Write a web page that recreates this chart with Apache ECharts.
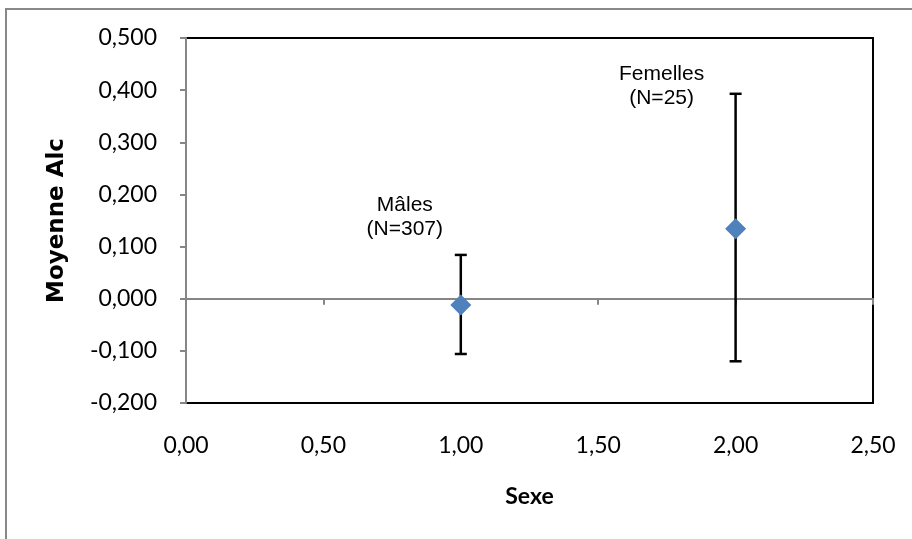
<!DOCTYPE html>
<html>
<head>
<meta charset="utf-8">
<script src="https://cdn.jsdelivr.net/npm/echarts@6/dist/echarts.min.js"></script>
<style>html,body{margin:0;padding:0;background:#fff}#c{width:912px;height:539px}</style>
</head>
<body>
<div id="c"></div>
<script>
var xValues = [1.0, 2.0];
var means = [-0.012, 0.134];
var upper = [0.084, 0.393];
var lower = [-0.106, -0.120];
var labelTexts = ['Mâles\n(N=307)', 'Femelles\n(N=25)'];
var yTicks = [-0.2, -0.1, 0, 0.1, 0.2, 0.3, 0.4, 0.5];
var xTicks = [0, 0.5, 1.0, 1.5, 2.0, 2.5];

var chart = echarts.init(document.getElementById('c'));
var tickFont = 'Lato, "Open Sans", sans-serif';
var labelOffsets = [[-56, -88], [-74, -143]];

var pointData = xValues.map(function (x, i) {
  return {
    value: [x, means[i]],
    label: {
      show: true,
      formatter: labelTexts[i],
      position: 'inside',
      offset: labelOffsets[i],
      fontFamily: '"Liberation Sans", Arial, sans-serif',
      fontSize: 21,
      lineHeight: 24,
      color: '#000',
      align: 'center'
    }
  };
});
var errData = xValues.map(function (x, i) { return [x, lower[i], upper[i]]; });

chart.setOption({
  animation: false,
  grid: { left: 186, top: 38, right: 39, bottom: 136, show: true, borderColor: '#000', borderWidth: 2, backgroundColor: '#fff' },
  graphic: [{
    type: 'rect', shape: { x: 6, y: 9, width: 1000, height: 600 },
    style: { fill: 'none', stroke: '#888', lineWidth: 2 }, silent: true, z: -10
  }],
  xAxis: [{
    type: 'value', min: 0, max: 2.5, interval: 0.5,
    name: 'Sexe', nameLocation: 'middle', nameGap: 82,
    nameTextStyle: { fontFamily: tickFont, fontWeight: 'bold', fontSize: 23, color: '#000' },
    axisLine: { show: false, onZero: false }, axisTick: { show: false },
    splitLine: { show: false },
    axisLabel: { margin: 31, fontFamily: tickFont, fontSize: 23, color: '#000',
      formatter: function (v) { return v.toFixed(2).replace('.', ','); } }
  }, {
    type: 'value', min: 0, max: 2.5, interval: 0.5, position: 'top',
    axisLine: { show: true, onZero: true, lineStyle: { color: '#868686', width: 2 } },
    axisTick: { show: true, inside: true, length: 6, lineStyle: { color: '#868686', width: 2 } },
    axisLabel: { show: false }, splitLine: { show: false }
  }],
  yAxis: {
    type: 'value', min: -0.2, max: 0.5, interval: 0.1,
    name: 'Moyenne Alc', nameLocation: 'middle', nameGap: 117,
    nameTextStyle: { fontFamily: '"DejaVu Sans", sans-serif', fontWeight: 'bold', fontSize: 23, color: '#000' },
    axisLine: { show: true, onZero: false, lineStyle: { color: '#868686', width: 2 } },
    axisTick: { show: true, length: 6, lineStyle: { color: '#868686', width: 2 } },
    splitLine: { show: false },
    axisLabel: { margin: 29, fontFamily: tickFont, fontSize: 23, color: '#000',
      formatter: function (v) { return v.toFixed(3).replace('.', ','); } }
  },
  series: [{
    type: 'custom',
    xAxisIndex: 0,
    data: errData,
    renderItem: function (params, api) {
      var x = api.value(0);
      var lo = api.coord([x, api.value(1)]);
      var hi = api.coord([x, api.value(2)]);
      var cap = 6;
      var st = { stroke: '#000', lineWidth: 2.5 };
      return {
        type: 'group',
        children: [
          { type: 'line', shape: { x1: lo[0], y1: lo[1], x2: hi[0], y2: hi[1] }, style: st },
          { type: 'line', shape: { x1: lo[0] - cap, y1: lo[1], x2: lo[0] + cap, y2: lo[1] }, style: st },
          { type: 'line', shape: { x1: hi[0] - cap, y1: hi[1], x2: hi[0] + cap, y2: hi[1] }, style: st }
        ]
      };
    },
    z: 3
  }, {
    type: 'scatter',
    xAxisIndex: 0,
    symbol: 'diamond',
    symbolSize: [21, 21],
    itemStyle: { color: '#4F81BD', opacity: 1 },
    data: pointData,
    z: 5
  }]
});
</script>
</body>
</html>
